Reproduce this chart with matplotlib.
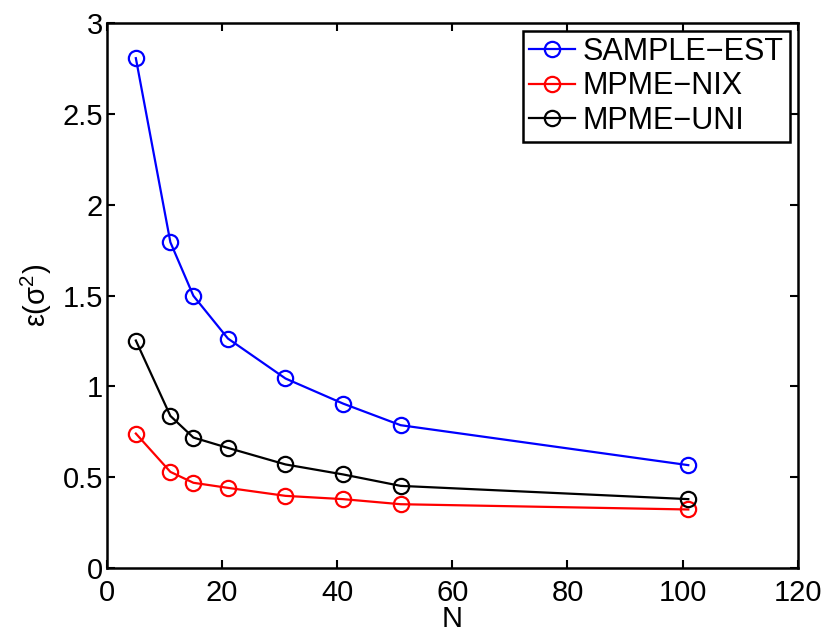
import matplotlib
matplotlib.use("Agg")
import matplotlib.pyplot as plt

plt.rcParams['font.family'] = ['Liberation Sans', 'DejaVu Sans']
plt.rcParams['mathtext.fontset'] = 'custom'
plt.rcParams['mathtext.rm'] = 'Liberation Sans'

N = [5, 11, 15, 21, 31, 41, 51, 101]
sample_est = [2.807, 1.794, 1.499, 1.264, 1.044, 0.906, 0.787, 0.567]
mpme_nix = [0.741, 0.530, 0.470, 0.442, 0.398, 0.380, 0.352, 0.323]
mpme_uni = [1.253, 0.838, 0.719, 0.662, 0.571, 0.516, 0.453, 0.380]

xticks = [0, 20, 40, 60, 80, 100, 120]
yticks = [0, 0.5, 1, 1.5, 2, 2.5, 3]
ytick_labels = ['0', '0.5', '1', '1.5', '2', '2.5', '3']

FS = 21

fig = plt.figure(figsize=(8.3, 6.42), dpi=100)
ax = fig.add_axes([0.129, 0.115, 0.832, 0.849])

kw = dict(marker='o', markersize=11, markerfacecolor='none', markeredgewidth=1.6, linewidth=1.6)
ax.plot(N, sample_est, color='#0000ff', label='SAMPLE\u2212EST', **kw)
ax.plot(N, mpme_nix, color='#ff0000', label='MPME\u2212NIX', **kw)
ax.plot(N, mpme_uni, color='black', label='MPME\u2212UNI', **kw)

ax.set_xlim(0, 120)
ax.set_ylim(0, 3)
ax.set_xticks(xticks)
ax.set_yticks(yticks)
ax.set_yticklabels(ytick_labels)
ax.tick_params(direction='in', top=True, right=True, length=6, width=1.5, labelsize=FS)
ax.tick_params(axis='x', pad=8)
ax.tick_params(axis='y', pad=3)
for s in ax.spines.values():
    s.set_linewidth(1.8)

ax.set_xlabel('N', fontsize=FS, labelpad=-2)
ax.set_ylabel('\u03b5(\u03c3$^2$)', fontsize=FS, labelpad=6)

leg = ax.legend(loc='upper right', fontsize=22, frameon=True, fancybox=False,
                edgecolor='black', framealpha=1, borderaxespad=0.25,
                handlelength=1.5, handletextpad=0.25, labelspacing=0.15, borderpad=0.2)
leg.get_frame().set_linewidth(1.8)

fig.savefig('out.png', dpi=100)
